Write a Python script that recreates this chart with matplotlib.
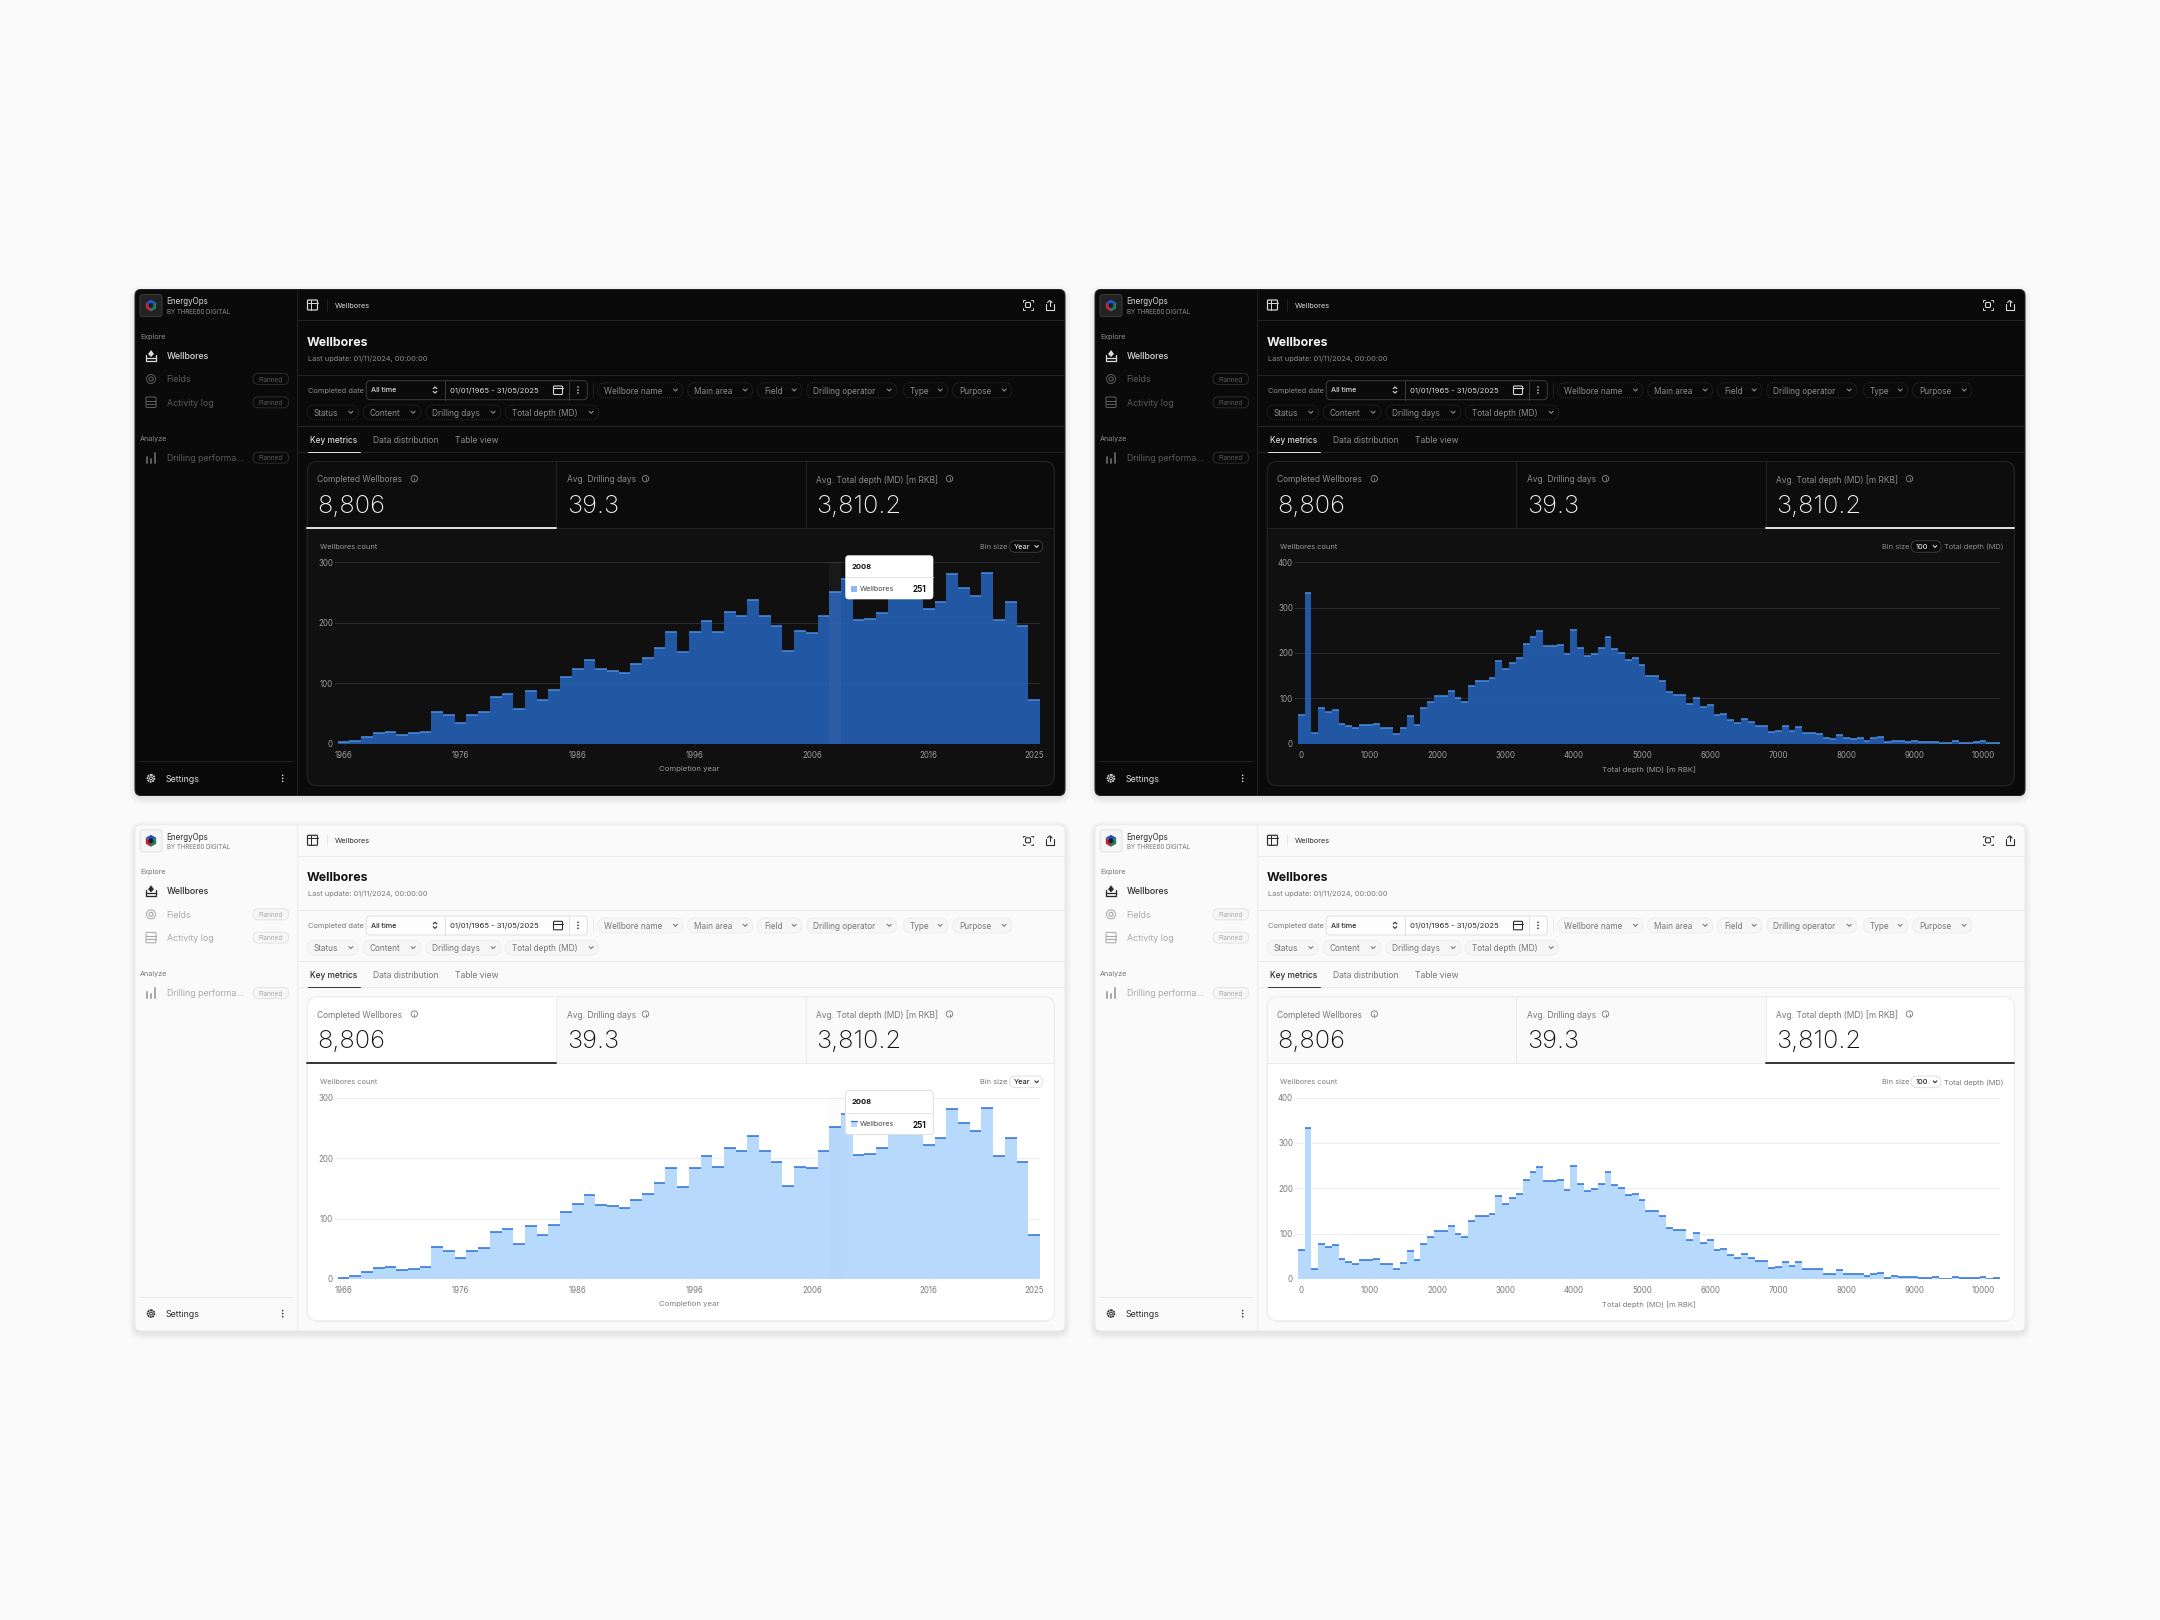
import matplotlib
matplotlib.use("Agg")
import matplotlib.pyplot as plt
from matplotlib.patches import FancyBboxPatch, Rectangle, Circle, Polygon

plt.rcParams['font.family'] = ['Inter', 'DejaVu Sans']

# chart data
years = list(range(1966, 2026))
year_counts = [2, 5, 11, 18, 20, 15, 17, 20, 53, 47, 35, 47, 52, 78, 83, 58, 87, 72, 89, 111,
               124, 139, 123, 121, 117, 131, 141, 158, 184, 152, 184, 203, 185, 217, 211, 237,
               211, 194, 153, 186, 183, 212, 251, 273, 205, 206, 216, 245, 262, 250, 222, 234,
               281, 258, 245, 283, 204, 234, 194, 72]
year_ticks = [1966, 1976, 1986, 1996, 2006, 2016, 2025]
year_yticks = [0, 100, 200, 300]

depth_bins = [i * 100 for i in range(103)]
depth_counts = [64, 332, 23, 78, 71, 75, 43, 38, 34, 42, 41, 44, 34, 34, 22, 35, 61, 42, 78, 92,
                106, 106, 117, 100, 93, 127, 139, 138, 144, 183, 165, 178, 188, 219, 236, 248,
                216, 215, 218, 197, 250, 210, 193, 198, 210, 236, 208, 201, 185, 188, 174, 150,
                150, 138, 113, 108, 108, 87, 101, 80, 85, 63, 66, 52, 46, 55, 47, 40, 40, 25,
                27, 38, 29, 37, 23, 23, 21, 12, 10, 19, 12, 10, 12, 7, 12, 14, 3, 7, 5, 4,
                5, 3, 3, 4, 1, 1, 5, 2, 2, 3, 5, 1, 2]
depth_ticks = [0, 1000, 2000, 3000, 4000, 5000, 6000, 7000, 8000, 9000, 10000]
depth_yticks = [0, 100, 200, 300, 400]

# screen text
nav_items = ["Wellbores", "Fields", "Activity log"]
filters_row1 = ["Wellbore name", "Main area", "Field", "Drilling operator", "Type", "Purpose"]
filters_row2 = ["Status", "Content", "Drilling days", "Total depth (MD)"]
tabs = ["Key metrics", "Data distribution", "Table view"]
kpi_names = ["Completed Wellbores", "Avg. Drilling days", "Avg. Total depth (MD) [m RKB]"]
kpi_values = ["8,806", "39.3", "3,810.2"]

DARK = dict(panel='#0a0a0a', kpi='#0b0b0b', kpi_on='#0d0d0d', chart='#101011', line='#222224',
            edge='#2a2a2c', title='#f2f2f2', text='#d8d8d8', muted='#8c8c8c', faint='#5a5a5a',
            grid='#2c2c2e', fill='#2560b4', alpha=0.9, top='#4b8ddf', strong='#dcdcdc',
            pill='#0a0a0a', box='#0a0a0a', boxedge='#3a3a3c', tick='#9a9a9a', logo='#222222')
LIGHT = dict(panel='#fafafa', kpi='#fafafa', kpi_on='#ffffff', chart='#ffffff', line='#ececec',
             edge='#e4e4e4', title='#111111', text='#2c2c2c', muted='#777777', faint='#a8a8a8',
             grid='#ededed', fill='#b6d9fc', alpha=1.0, top='#2a6fdc', strong='#3a3a3a',
             pill='#f6f6f6', box='#fdfdfd', boxedge='#e2e2e2', tick='#7c7c7c', logo='#f6f6f6')

W, H = 2160, 1620
fig = plt.figure(figsize=(W / 100, H / 100), dpi=100, facecolor='#fafafa')


def pixel_axes(z):
    a = fig.add_axes([0, 0, 1, 1], zorder=z)
    a.set_xlim(0, W)
    a.set_ylim(H, 0)
    a.axis('off')
    return a


bg = pixel_axes(0)
over = pixel_axes(3)


def box(a, x0, y0, x1, y1, r, fc, ec='none', lw=1, ls='-', alpha=None, z=2):
    p = FancyBboxPatch((x0, y0), x1 - x0, y1 - y0, boxstyle="round,pad=0,rounding_size=%s" % r,
                       fc=fc, ec=ec, lw=lw * 0.72, ls=ls, alpha=alpha, zorder=z)
    a.add_patch(p)
    return p


def txt(a, x, y, s, px, color, weight='normal', ha='left'):
    a.text(x, y, s, fontsize=px * 0.72, color=color, fontweight=weight, ha=ha,
           va='center_baseline', zorder=6)


def stroke(a, xs, ys, color, lw=1.0, z=5):
    a.plot(xs, ys, color=color, lw=lw * 0.72, zorder=z, solid_capstyle='round')


def chevron(a, x, y, color, s=2.0):
    stroke(a, [x - s, x, x + s], [y - s / 2, y + s / 2, y - s / 2], color, 1.1)


def dots(a, x, y, color):
    for d in (-3, 0, 3):
        a.add_patch(Circle((x, y + d), 0.8, fc=color, ec='none', zorder=5))


def info(a, x, y, color):
    a.add_patch(Circle((x, y), 3.2, fc='none', ec=color, lw=0.6, zorder=5))
    stroke(a, [x, x], [y - 0.4, y + 1.6], color, 0.9)
    a.add_patch(Circle((x, y - 1.6), 0.45, fc=color, ec='none', zorder=5))


def logo(a, x, y):
    a.add_patch(Polygon([(x, y - 6), (x + 5.2, y - 3), (x, y), (x - 5.2, y - 3)], fc='#2450c8', zorder=5))
    a.add_patch(Polygon([(x - 5.2, y - 3), (x, y), (x, y + 6), (x - 5.2, y + 3)], fc='#b52a38', zorder=5))
    a.add_patch(Polygon([(x + 5.2, y - 3), (x, y), (x, y + 6), (x + 5.2, y + 3)], fc='#1f7f55', zorder=5))
    a.add_patch(Circle((x, y), 2.4, fc='#141a30', ec='none', zorder=5))


def draw_chrome(ox, oy, t, active):
    a = bg
    X = lambda v: ox + v
    Y = lambda v: oy + v

    # soft shadow and panel
    for i in range(7):
        box(a, X(135 - i), Y(290 - i + 2), X(1065 + i), Y(795.5 + i + 3), 7 + i, '#000000', alpha=0.012, z=1)
    box(a, X(135), Y(289.5), X(1065), Y(795.5), 6, t['panel'], ec=t['line'], z=2)

    stroke(a, [X(296.7), X(296.7)], [Y(290), Y(795)], t['line'])
    stroke(a, [X(297), X(1064)], [Y(320.3), Y(320.3)], t['line'])
    stroke(a, [X(297), X(1064)], [Y(375), Y(375)], t['line'])
    stroke(a, [X(297), X(1064)], [Y(426), Y(426)], t['line'])
    stroke(a, [X(297), X(1064)], [Y(451.7), Y(451.7)], t['line'])

    # sidebar
    box(a, X(140), Y(294.5), X(162), Y(316.5), 2.5, t['logo'], ec=t['boxedge'])
    logo(a, X(151), Y(305.5))
    txt(a, X(166.7), Y(301), "EnergyOps", 8, t['text'])
    txt(a, X(166.7), Y(311), "BY THREE60 DIGITAL", 6.2, t['muted'])
    txt(a, X(140), Y(336), "Explore", 7.2, t['muted'])
    txt(a, X(140), Y(438), "Analyze", 7.2, t['muted'])

    rows = [355.7, 379, 402.3]
    for name, yy, c in zip(nav_items, rows, [t['text'], t['faint'], t['faint']]):
        txt(a, X(166.7), Y(yy), name, 8.8, c, 'medium' if c == t['text'] else 'normal')
    txt(a, X(166.7), Y(457.7), "Drilling performa...", 8.8, t['faint'])
    for yy in (379, 402.3, 457.7):
        box(a, X(253), Y(yy - 5.5), X(288.7), Y(yy + 5.5), 5.5, t['pill'], ec=t['edge'])
        txt(a, X(270.8), Y(yy), "Planned", 6.4, t['faint'], ha='center')

    # nav icons
    stroke(a, [X(146), X(146), X(156), X(156)], [Y(355), Y(360.5), Y(360.5), Y(355)], t['text'], 1.3)
    stroke(a, [X(146), X(156)], [Y(357.5), Y(357.5)], t['text'], 1.3)
    a.add_patch(Polygon([(X(148), Y(354)), (X(151), Y(350)), (X(154), Y(354)), (X(151), Y(357))], fc=t['text'], zorder=5))
    a.add_patch(Circle((X(151), Y(379)), 2, fc='none', ec=t['faint'], lw=0.8, zorder=5))
    a.add_patch(Circle((X(151), Y(379)), 4.5, fc='none', ec=t['faint'], lw=0.7, zorder=5))
    box(a, X(146), Y(397), X(156), Y(407.5), 1, 'none', ec=t['faint'], z=5)
    stroke(a, [X(146), X(156)], [Y(400.5), Y(400.5)], t['faint'])
    stroke(a, [X(146), X(156)], [Y(404), Y(404)], t['faint'])
    for bx, bt in zip((147, 151, 155), (457, 459, 453)):
        stroke(a, [X(bx), X(bx)], [Y(bt), Y(462.5)], t['faint'], 2)

    # settings
    stroke(a, [X(139), X(293)], [Y(761.3), Y(761.3)], t['line'])
    a.add_patch(Circle((X(151), Y(778.3)), 3.4, fc='none', ec=t['text'], lw=1.3, ls=(0, (1, 0.4)), zorder=5))
    a.add_patch(Circle((X(151), Y(778.3)), 1.4, fc='none', ec=t['text'], lw=0.7, zorder=5))
    txt(a, X(166), Y(778.3), "Settings", 8.8, t['text'])
    dots(a, X(282.7), Y(778.3), t['text'])

    # top bar
    box(a, X(307.5), Y(300), X(317.5), Y(310), 1, 'none', ec=t['text'], lw=1.2, z=5)
    stroke(a, [X(310.5), X(310.5)], [Y(300), Y(310)], t['text'])
    stroke(a, [X(307.5), X(317.5)], [Y(302.5), Y(302.5)], t['text'])
    stroke(a, [X(327.3), X(327.3)], [Y(299), Y(311)], t['line'])
    txt(a, X(335), Y(305), "Wellbores", 7.4, t['text'])
    box(a, X(1025.5), Y(302.5), X(1030.5), Y(307.5), 1.2, 'none', ec=t['text'], lw=1.1, z=5)
    for sx in (-1, 1):
        for sy in (-1, 1):
            stroke(a, [X(1028 + sx * 3.2), X(1028 + sx * 4.8), X(1028 + sx * 4.8)],
                   [Y(305 + sy * 4.8), Y(305 + sy * 4.8), Y(305 + sy * 3.2)], t['text'], 0.9)
    stroke(a, [X(1045.5), X(1045.5), X(1054), X(1054)], [Y(304), Y(309.5), Y(309.5), Y(304)], t['text'], 1.1)
    stroke(a, [X(1049.8), X(1049.8)], [Y(300.5), Y(306)], t['text'], 1.1)
    stroke(a, [X(1047.5), X(1049.8), X(1052.1)], [Y(302.5), Y(300.5), Y(302.5)], t['text'], 1.1)

    # heading
    txt(a, X(307), Y(341), "Wellbores", 12.3, t['title'], 'bold')
    txt(a, X(307.5), Y(358), "Last update: 01/11/2024, 00:00:00", 7.4, t['muted'])

    # date filter
    txt(a, X(307.5), Y(390), "Completed date", 7.4, t['muted'])
    box(a, X(366.3), Y(380.7), X(587.3), Y(399.7), 4, t['box'], ec=t['boxedge'])
    stroke(a, [X(445.3), X(445.3)], [Y(381), Y(399.5)], t['boxedge'])
    stroke(a, [X(568.7), X(568.7)], [Y(381), Y(399.5)], t['boxedge'])
    txt(a, X(371), Y(390), "All time", 7.2, t['text'], 'medium')
    chevron(a, X(435), Y(392.2), t['text'], 1.8)
    stroke(a, [X(433.2), X(435), X(436.8)], [Y(388.7), Y(386.9), Y(388.7)], t['text'], 1.1)
    txt(a, X(450), Y(390), "01/01/1965 - 31/05/2025", 7.7, t['text'])
    box(a, X(553.5), Y(386), X(562.5), Y(394.5), 1, 'none', ec=t['text'], lw=1.1, z=5)
    stroke(a, [X(553.5), X(562.5)], [Y(388.3), Y(388.3)], t['text'], 1.1)
    dots(a, X(578), Y(390), t['text'])
    stroke(a, [X(593), X(593)], [Y(383), Y(397)], t['line'])

    # dashed filter pills
    lefts1 = [597.7, 687.7, 757.3, 806.7, 903.3, 952.7]
    rights1 = [683, 752.7, 801.7, 896.7, 947.7, 1011.7]
    for name, l, r in zip(filters_row1, lefts1, rights1):
        box(a, X(l), Y(382.7), X(r), Y(397.7), 7.5, t['pill'], ec=t['edge'], ls=(0, (1, 1)))
        txt(a, X(l + 6.5), Y(390), name, 8.2, t['muted'])
        chevron(a, X(r - 7.5), Y(390), t['muted'])
    lefts2 = [307.3, 363.3, 426, 505.3]
    rights2 = [358.3, 420.7, 500.7, 598.7]
    for name, l, r in zip(filters_row2, lefts2, rights2):
        box(a, X(l), Y(405), X(r), Y(419.7), 7.3, t['pill'], ec=t['edge'], ls=(0, (1, 1)))
        txt(a, X(l + 6.5), Y(412.3), name, 8.2, t['muted'])
        chevron(a, X(r - 7.5), Y(412.3), t['muted'])

    # tabs
    tab_x = [309.7, 372.7, 455]
    for i, (name, tx) in enumerate(zip(tabs, tab_x)):
        txt(a, X(tx), Y(439.3), name, 8.3 if i == 0 else 8.6, t['text'] if i == 0 else t['muted'], 'medium' if i == 0 else 'normal')
    stroke(a, [X(307.5), X(360)], [Y(451.5), Y(451.5)], t['strong'], 1.0)

    # card with the three metric cells
    card = box(a, X(307.3), Y(461.5), X(1054.3), Y(785.7), 10, t['chart'], ec=t['line'], z=2)
    cells = [(307.3, 556), (556, 805.7), (805.7, 1054.3)]
    for i, (l, r) in enumerate(cells):
        c = Rectangle((X(l), Y(461.5)), r - l, 66, fc=t['kpi_on'] if i == active else t['kpi'], ec='none', zorder=3)
        a.add_patch(c)
        c.set_clip_path(card)
    box(a, X(307.3), Y(461.5), X(1054.3), Y(785.7), 10, 'none', ec=t['line'], z=4)
    stroke(a, [X(556), X(556)], [Y(462), Y(527.5)], t['line'])
    stroke(a, [X(805.7), X(805.7)], [Y(462), Y(527.5)], t['line'])
    stroke(a, [X(307.5), X(1054)], [Y(527.5), Y(527.5)], t['line'])
    stroke(a, [X(cells[active][0]), X(cells[active][1])], [Y(527.5), Y(527.5)], t['strong'], 2)
    kpi_x = [317, 566.7, 815.7]
    info_x = [414.3, 645.5, 949.5]
    for n, v, kx, ix in zip(kpi_names, kpi_values, kpi_x, info_x):
        txt(a, X(kx), Y(478.7), n, 8.4, t['muted'])
        info(a, X(ix), Y(478.7), t['muted'])
        txt(a, X(kx), Y(504), v, 25.4, t['title'], 'light')


def draw_chart(ox, oy, t, x_bins, counts, xticks, yticks, xlabel, bar_w, ymax, highlight=None):
    # axes box in reference pixels, 2.7px of grid sticks out left of the first bar
    x0, x1 = ox + 335, ox + 1040
    y0, y1 = oy + 743.7, oy + 562.3
    ax = fig.add_axes([x0 / W, 1 - y0 / H, (x1 - x0) / W, (y0 - y1) / H], zorder=2)
    ax.patch.set_alpha(0)
    edges = [b - bar_w / 2 for b in x_bins] + [x_bins[-1] + bar_w / 2]
    px_per_unit = (1040 - 337.7) / (edges[-1] - edges[0])
    ax.set_xlim(edges[0] - 2.7 / px_per_unit, edges[-1])
    ax.set_ylim(0, ymax)
    ax.stairs(counts, edges, fill=True, color=t['fill'], alpha=t['alpha'], lw=0, zorder=2)
    ax.hlines(counts, edges[:-1], edges[1:], color=t['top'], lw=1.1, zorder=3)
    if highlight is not None:
        ax.axvspan(highlight - bar_w / 2, highlight + bar_w / 2,
                   color='#ffffff' if t is DARK else '#000000', alpha=0.04 if t is DARK else 0.012, lw=0, zorder=4)
    ax.set_yticks(yticks)
    ax.set_xticks(xticks)
    ax.grid(axis='y', color=t['grid'], lw=0.75, zorder=1)
    ax.set_axisbelow(True)
    for s in ax.spines.values():
        s.set_visible(False)
    ax.tick_params(axis='y', length=0, pad=1.5, labelsize=5.7, labelcolor=t['tick'])
    ax.tick_params(axis='x', length=1.5, width=0.5, color=t['grid'], pad=3.8, labelsize=5.7, labelcolor=t['tick'])
    ax.set_xlabel(xlabel, fontsize=5.6, color=t['tick'], labelpad=4.2, x=0.502)
    txt(bg, ox + 319.7, oy + 546.5, "Wellbores count", 7.4, t['tick'])
    return ax


def bin_controls(ox, oy, t, left, value, right, suffix=None):
    a = bg
    txt(a, ox + left, oy + 546.5, "Bin size", 7.4, t['muted'])
    box(a, ox + left + 29.5, oy + 540.7, ox + right, oy + 552.3, 5.8, t['box'], ec=t['boxedge'], z=3)
    txt(a, ox + left + 33.5, oy + 546.5, value, 7.4, t['text'], 'medium')
    chevron(a, ox + right - 6, oy + 546.5, t['text'], 1.8)
    if suffix:
        txt(a, ox + right + 3.5, oy + 546.5, suffix, 7.4, t['muted'])


def tooltip(ox, oy, t):
    a = over
    box(a, ox + 845.3, oy + 555.3, ox + 933.3, oy + 599.3, 3.5, '#ffffff', ec='none' if t is DARK else '#dedede', z=2)
    stroke(a, [ox + 845.5, ox + 933], [oy + 577.3, oy + 577.3], '#e4e4e4')
    txt(a, ox + 851.3, oy + 566.3, "2008", 7.6, '#111111', 'bold')
    a.add_patch(Rectangle((ox + 851, oy + 585.7), 6, 6, fc='#8ab8f8' if t is DARK else t['fill'], ec='none', zorder=5))
    if t is LIGHT:
        stroke(a, [ox + 851, ox + 857], [oy + 585.7, oy + 585.7], t['top'], 1.2)
    txt(a, ox + 860.3, oy + 588.7, "Wellbores", 7.2, '#444444')
    txt(a, ox + 926.7, oy + 588.7, str(year_counts[years.index(2008)]), 8, '#111111', 'bold', ha='right')


dx, dy = 960, 535.3
layout = [(0, 0, DARK, 0, True), (dx, 0, DARK, 2, False), (0, dy, LIGHT, 0, True), (dx, dy, LIGHT, 2, False)]
for ox, oy, theme, active, by_year in layout:
    draw_chrome(ox, oy, theme, active)
    if by_year:
        draw_chart(ox, oy, theme, years, year_counts, year_ticks, year_yticks, "Completion year", 1, 300, highlight=2008)
        bin_controls(ox, oy, theme, 980, "Year", 1042.7)
        tooltip(ox, oy, theme)
    else:
        draw_chart(ox, oy, theme, depth_bins, depth_counts, depth_ticks, depth_yticks, "Total depth (MD) [m RBK]", 100, 400)
        bin_controls(ox, oy, theme, 921.7, "100", 981, "Total depth (MD)")

fig.savefig("out.png", dpi=100, facecolor=fig.get_facecolor())
